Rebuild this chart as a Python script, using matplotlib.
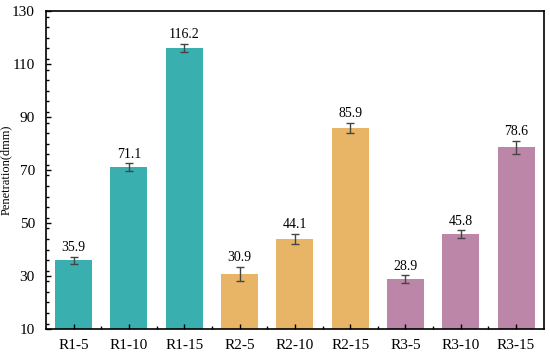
import matplotlib
matplotlib.use('Agg')
import matplotlib.pyplot as plt
import numpy as np
from matplotlib.ticker import MultipleLocator

labels = ['R1-5', 'R1-10', 'R1-15', 'R2-5', 'R2-10', 'R2-15', 'R3-5', 'R3-10', 'R3-15']
values = [35.9, 71.1, 116.2, 30.9, 44.1, 85.9, 28.9, 45.8, 78.6]
errors = [1.4, 1.5, 1.6, 2.6, 1.9, 2.0, 1.4, 1.5, 2.4]
colors = ['#3AAFB0'] * 3 + ['#E8B567'] * 3 + ['#BC86A8'] * 3

plt.rcParams['font.family'] = ['Liberation Serif', 'DejaVu Serif']

fig = plt.figure(figsize=(5.5, 3.56), dpi=100)
ax = fig.add_axes([0.0836, 0.076, 0.905, 0.892])

x = np.arange(len(labels))
ax.bar(x, values, width=0.67, color=colors, yerr=errors,
       error_kw=dict(ecolor='#444444', elinewidth=1, capsize=3, capthick=1))

for xi, v, e in zip(x, values, errors):
    ax.text(xi, v + e + 1.0, f'{v:.1f}', ha='center', va='bottom', fontsize=10)

ax.set_xlim(-0.5, 8.5)
ax.set_ylim(10, 130)
ax.set_yticks(np.arange(10, 131, 20))
ax.yaxis.set_minor_locator(MultipleLocator(4))
ax.set_xticks(x)
ax.set_xticklabels(labels)
ax.set_xticks(x[:-1] + 0.5, minor=True)
ax.tick_params(axis='both', which='major', direction='in', labelsize=11, length=3.5, width=1)
ax.tick_params(axis='both', which='minor', direction='in', length=2.5, width=1)
ax.tick_params(axis='x', which='major', pad=7)
ax.tick_params(axis='y', which='major', pad=8)
ax.set_ylabel('Penetration(dmm)', fontsize=9)
ax.yaxis.set_label_coords(-0.068, 0.5)
for s in ax.spines.values():
    s.set_linewidth(1.2)

fig.savefig('out.png', dpi=100)
